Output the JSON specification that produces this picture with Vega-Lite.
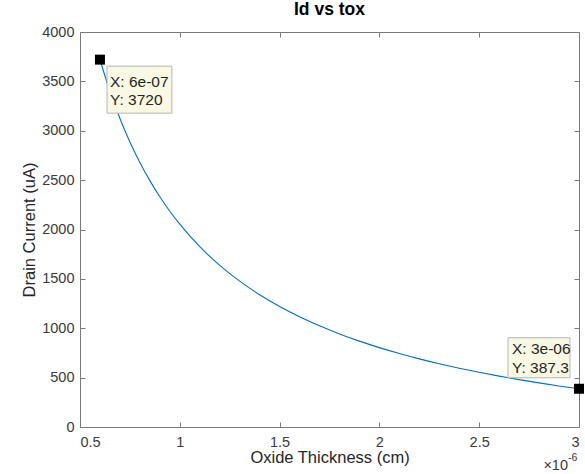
{
  "$schema": "https://vega.github.io/schema/vega-lite/v6.json",
  "width": 499,
  "height": 395,
  "autosize": {"type": "none"},
  "padding": {"left": 80, "top": 32, "right": 6, "bottom": 47},
  "background": "white",
  "config": {
    "view": {"stroke": null},
    "font": "Liberation Sans",
    "axis": {"grid": false, "domainColor": "#7a7a7a", "tickColor": "#7a7a7a", "labelColor": "#3a3a3a", "titleColor": "#262626", "labelFontSize": 14.5, "titleFontSize": 16.5, "titleFontWeight": "normal", "labelFont": "Liberation Sans", "titleFont": "Liberation Sans"}
  },
  "title": {"text": "Id vs tox", "fontSize": 17.5, "fontWeight": "bold", "font": "Liberation Sans", "color": "#000000", "anchor": "middle", "offset": 6},
  "datasets": {
    "curve": [
      {"tox": 0.6, "id": 3720},
      {"tox": 0.65, "id": 3399.5},
      {"tox": 0.7, "id": 3124.8},
      {"tox": 0.75, "id": 2886.8},
      {"tox": 0.8, "id": 2678.5},
      {"tox": 0.85, "id": 2494.7},
      {"tox": 0.9, "id": 2331.3},
      {"tox": 0.95, "id": 2185.2},
      {"tox": 1.0, "id": 2053.6},
      {"tox": 1.1, "id": 1826.4},
      {"tox": 1.2, "id": 1637.0},
      {"tox": 1.3, "id": 1476.8},
      {"tox": 1.4, "id": 1339.5},
      {"tox": 1.5, "id": 1220.4},
      {"tox": 1.6, "id": 1116.3},
      {"tox": 1.7, "id": 1024.4},
      {"tox": 1.8, "id": 942.7},
      {"tox": 1.9, "id": 869.6},
      {"tox": 2.0, "id": 803.9},
      {"tox": 2.1, "id": 744.3},
      {"tox": 2.2, "id": 690.2},
      {"tox": 2.3, "id": 640.8},
      {"tox": 2.4, "id": 595.6},
      {"tox": 2.5, "id": 553.9},
      {"tox": 2.6, "id": 515.4},
      {"tox": 2.7, "id": 479.8},
      {"tox": 2.8, "id": 446.8},
      {"tox": 2.9, "id": 416.0},
      {"tox": 3.0, "id": 387.3}
    ],
    "tips": [
      {"tox": 0.6, "id": 3720, "lx": "X: 6e-07", "ly": "Y: 3720"},
      {"tox": 3.0, "id": 387.3, "lx": "X: 3e-06", "ly": "Y: 387.3"}
    ]
  },
  "resolve": {"axis": {"x": "independent", "y": "independent"}},
  "layer": [
    {
      "data": {"name": "curve"},
      "mark": {"type": "line", "color": "#0072BD", "strokeWidth": 1.1, "interpolate": "monotone"},
      "encoding": {
        "x": {"field": "tox", "type": "quantitative", "scale": {"domain": [0.5, 3], "nice": false, "zero": false},
          "axis": {"orient": "bottom", "values": [0.5, 1, 1.5, 2, 2.5, 3], "format": "~g", "tickSize": -5, "labelPadding": 13, "title": "Oxide Thickness (cm)", "titlePadding": 1}},
        "y": {"field": "id", "type": "quantitative", "scale": {"domain": [0, 4000], "nice": false},
          "axis": {"orient": "left", "values": [0, 500, 1000, 1500, 2000, 2500, 3000, 3500, 4000], "format": "d", "tickSize": -5, "labelPadding": 11, "title": "Drain Current (uA)", "titlePadding": 4}}
      }
    },
    {
      "data": {"name": "tips"},
      "mark": {"type": "point", "shape": "square", "filled": true, "color": "#000000", "size": 100, "opacity": 1},
      "encoding": {
        "x": {"field": "tox", "type": "quantitative", "axis": {"orient": "top", "values": [0.5, 1, 1.5, 2, 2.5, 3], "labels": false, "tickSize": -5, "title": null}},
        "y": {"field": "id", "type": "quantitative", "axis": {"orient": "right", "values": [0, 500, 1000, 1500, 2000, 2500, 3000, 3500, 4000], "labels": false, "tickSize": -5, "title": null}}
      }
    },
    {
      "data": {"values": [{}]},
      "mark": {"type": "point", "shape": "M-1.38,-1H1.38V1H-1.38Z", "size": 2209, "filled": true, "fill": "#F9F9E3", "stroke": "#B5B5B5", "strokeWidth": 1, "opacity": 1, "xOffset": 39.5, "yOffset": 30},
      "encoding": {"x": {"datum": 0.6, "type": "quantitative", "axis": null}, "y": {"datum": 3720, "type": "quantitative", "axis": null}}
    },
    {
      "data": {"values": [{}]},
      "mark": {"type": "point", "shape": "M-1.55,-1H1.55V1H-1.55Z", "size": 1600, "filled": true, "fill": "#F9F9E3", "stroke": "#B5B5B5", "strokeWidth": 1, "opacity": 1, "xOffset": -40, "yOffset": -31},
      "encoding": {"x": {"datum": 3.0, "type": "quantitative", "axis": null}, "y": {"datum": 387.3, "type": "quantitative", "axis": null}}
    },
    {
      "data": {"name": "tips"},
      "transform": [{"filter": "datum.tox < 1"}],
      "mark": {"type": "text", "align": "left", "baseline": "middle", "fontSize": 15.5, "color": "#262626", "dx": 10, "dy": 22},
      "encoding": {"x": {"field": "tox", "type": "quantitative", "axis": null}, "y": {"field": "id", "type": "quantitative", "axis": null}, "text": {"field": "lx"}}
    },
    {
      "data": {"name": "tips"},
      "transform": [{"filter": "datum.tox < 1"}],
      "mark": {"type": "text", "align": "left", "baseline": "middle", "fontSize": 15.5, "color": "#262626", "dx": 10, "dy": 40},
      "encoding": {"x": {"field": "tox", "type": "quantitative", "axis": null}, "y": {"field": "id", "type": "quantitative", "axis": null}, "text": {"field": "ly"}}
    },
    {
      "data": {"name": "tips"},
      "transform": [{"filter": "datum.tox > 1"}],
      "mark": {"type": "text", "align": "left", "baseline": "middle", "fontSize": 15.5, "color": "#262626", "dx": -67, "dy": -40},
      "encoding": {"x": {"field": "tox", "type": "quantitative", "axis": null}, "y": {"field": "id", "type": "quantitative", "axis": null}, "text": {"field": "lx"}}
    },
    {
      "data": {"name": "tips"},
      "transform": [{"filter": "datum.tox > 1"}],
      "mark": {"type": "text", "align": "left", "baseline": "middle", "fontSize": 15.5, "color": "#262626", "dx": -67, "dy": -21},
      "encoding": {"x": {"field": "tox", "type": "quantitative", "axis": null}, "y": {"field": "id", "type": "quantitative", "axis": null}, "text": {"field": "ly"}}
    },
    {
      "data": {"values": [{"t": "×10"}]},
      "mark": {"type": "text", "align": "right", "baseline": "middle", "fontSize": 14.5, "color": "#3a3a3a", "dx": -11, "dy": 39},
      "encoding": {"x": {"datum": 3.0, "type": "quantitative", "axis": null}, "y": {"datum": 0, "type": "quantitative", "axis": null}, "text": {"field": "t"}}
    },
    {
      "data": {"values": [{"t": "-6"}]},
      "mark": {"type": "text", "align": "left", "baseline": "middle", "fontSize": 10.5, "color": "#3a3a3a", "dx": -11, "dy": 31},
      "encoding": {"x": {"datum": 3.0, "type": "quantitative", "axis": null}, "y": {"datum": 0, "type": "quantitative", "axis": null}, "text": {"field": "t"}}
    }
  ]
}
